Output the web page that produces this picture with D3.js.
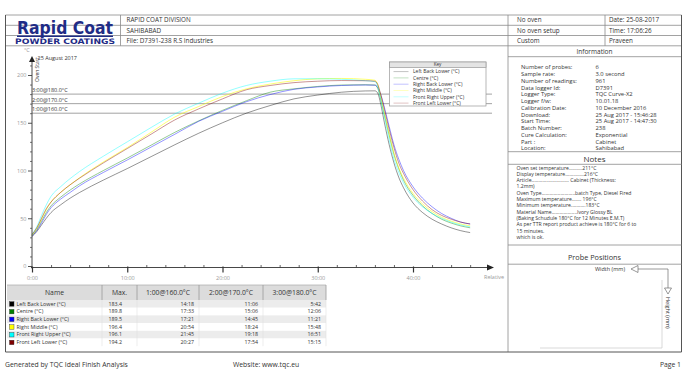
<!DOCTYPE html>
<html>
<head>
<meta charset="utf-8">
<script src="https://cdn.jsdelivr.net/npm/d3@7"></script>
<style>
body { margin: 0; background: #fff; }
svg { display: block; font-family: "Open Sans", sans-serif; }
</style>
</head>
<body>
<svg id="chart" width="685" height="381"></svg>
<script>
// ---- data ----
var times = [0, 0.5, 1, 1.5, 2, 3, 4, 5, 7.5, 10, 12.5, 15, 17.5, 20, 22.5, 25, 27.5, 30, 32.5, 35, 36, 36.3, 36.6, 37, 37.5, 38, 38.5, 39, 40, 41, 42, 43, 44, 45, 46];
var seriesNames = ["Left Back Lower (°C)", "Centre (°C)", "Right Back Lower (°C)", "Right Middle (°C)", "Front Right Upper (°C)", "Front Left Lower (°C)"];
var seriesColors = ["#000000", "#008000", "#0000ff", "#ffff00", "#00ffff", "#800000"];
var leftBackLower = [31, 36, 43, 50, 56, 64, 71, 77, 90, 102, 114.5, 127, 139, 150, 160, 168, 175, 179, 182, 183.3, 183.4, 181, 170, 150, 127, 108, 93, 82, 66, 56, 49, 44, 40, 37, 35];
var centre = [32, 38, 47, 56, 63, 72, 79.5, 86, 100, 113, 126.5, 140, 152, 163, 173, 182, 185.5, 188, 189.5, 189.8, 189.5, 186, 175, 158, 137, 117, 102, 90, 74, 63, 55, 49, 45, 42, 40];
var rightBackLower = [31, 37, 45, 54, 61, 70, 77, 84, 98, 111, 124.5, 138, 151.5, 162, 172, 179.5, 185, 187.5, 189, 189.5, 189.3, 187, 180, 166, 146, 127, 112, 100, 83, 71, 62, 55, 50, 46, 44];
var rightMiddle = [32, 39, 49, 59, 67, 77, 85, 92.5, 109, 124, 140, 156, 167, 177.5, 185.5, 190.5, 194, 196, 196.4, 195.5, 194.5, 190, 178, 160, 138, 118, 103, 92, 76, 65, 57, 51, 47, 44, 42];
var frontRightUpper = [33, 41, 53, 64, 73, 83, 91.5, 99, 115, 130, 145, 159.3, 170.5, 181, 189, 193.5, 196, 196.1, 195.5, 194, 193, 188, 175, 156, 132, 112, 98, 87, 72, 62, 55, 50, 46, 43, 41];
var frontLeftLower = [33, 40, 50, 60, 67, 77, 85, 92, 108, 123, 138, 153, 164.5, 175, 184.5, 189, 192, 193.5, 194.2, 194, 193.5, 190, 180, 164, 143, 124, 108, 97, 80, 68, 59, 53, 49, 46, 44];
var seriesValues = [leftBackLower, centre, rightBackLower, rightMiddle, frontRightUpper, frontLeftLower];

var thresholds = [160, 170, 180];
var thresholdLabels = ["1:00@160.0°C", "2:00@170.0°C", "3:00@180.0°C"];

var tableHeaders = ["Name", "Max.", "1:00@160.0°C", "2:00@170.0°C", "3:00@180.0°C"];
var maxValues = ["183.4", "189.8", "189.5", "196.4", "196.1", "194.2"];
var timeAbove160 = ["14:18", "17:33", "17:21", "20:54", "21:45", "20:27"];
var timeAbove170 = ["11:06", "15:06", "14:45", "18:24", "19:18", "17:54"];
var timeAbove180 = ["5:42", "12:06", "11:21", "15:48", "16:51", "15:15"];

var xMajorTicks = [0, 10, 20, 30, 40];
var yMajorTicks = [0, 50, 100, 150, 200];

var headerLeft = ["RAPID COAT DIVISION", "SAHIBABAD", "File: D7391-238 R.S Industries"];
var headerMid = ["No oven", "No oven setup", "Custom"];
var headerRight = ["Date: 25-08-2017", "Time: 17:06:26", "Praveen"];

var infoLabels = ["Number of probes:", "Sample rate:", "Number of readings:", "Data logger Id:", "Logger Type:", "Logger f/w:", "Calibration Date:", "Download:", "Start Time:", "Batch Number:", "Cure Calculation:", "Part :", "Location:"];
var infoValues = ["6", "3.0 second", "961", "D7391", "TQC Curve-X2", "10.01.18", "10 December 2016", "25 Aug 2017 - 15:46:28", "25 Aug 2017 - 14:47:30", "238", "Exponential", "Cabinet", "Sahibabad"];
var notesLines = [
    "Oven set temperature..........211°C",
    "Display temperature..............216°C",
    "Article............................ Cabinet (Thickness:",
    "1.2mm)",
    "Oven Type.........................batch Type, Diesel Fired",
    "Maximum temperature....... 196°C",
    "Minimum temperature...........183°C",
    "Material Name...................Ivory Glossy BL",
    "(Baking Schudule 180°C  for 12 Minutes E.M.T)",
    "As per TTR report product achieve is 180°C  for 6 to",
    "15 minutes.",
    "which is ok."
];

var svg = d3.select("#chart");
var frame = "#8a8a8a";

// ---- header / frame ----
function hline(x1, x2, y, c, w) {
    svg.append("line").attr("x1", x1).attr("x2", x2).attr("y1", y).attr("y2", y)
        .style("stroke", c || frame).style("stroke-width", w || 0.8);
}
function vline(x, y1, y2, c, w) {
    svg.append("line").attr("x1", x).attr("x2", x).attr("y1", y1).attr("y2", y2)
        .style("stroke", c || frame).style("stroke-width", w || 0.8);
}
[15, 25.3, 35.5, 45.8].forEach(function(y) { hline(5.5, 681.5, y); });
hline(508, 681.5, 56.7);
vline(5.5, 15, 352, "#555", 1);
vline(681.5, 15, 352, "#555", 1);
vline(120.5, 15, 45.8);
vline(508, 15, 352);
vline(605, 15, 45.8);
hline(5.5, 681.5, 352, "#555", 1);

// logo
svg.append("text").attr("x", 17).attr("y", 33.5)
    .attr("textLength", 96).attr("lengthAdjust", "spacingAndGlyphs")
    .style("font-family", "'DejaVu Sans', sans-serif").style("font-weight", "bold")
    .style("font-size", "18px").style("fill", "#1f2c86").text("Rapid Coat");
hline(17, 113, 36.3, "#1f2c86", 1.6);
svg.append("text").attr("x", 15).attr("y", 44.2)
    .attr("textLength", 100).attr("lengthAdjust", "spacingAndGlyphs")
    .style("font-family", "'DejaVu Sans', sans-serif").style("font-weight", "bold")
    .style("font-size", "7.5px").style("fill", "#1f2c86").text("POWDER COATINGS");

var rowY = [22.4, 32.6, 43];
headerLeft.forEach(function(t, i) {
    svg.append("text").attr("x", 126.5).attr("y", rowY[i]).style("font-size", "6.3px").style("fill", "#333").text(t);
});
headerMid.forEach(function(t, i) {
    svg.append("text").attr("x", 517).attr("y", rowY[i]).style("font-size", "6.3px").style("fill", "#333").text(t);
});
headerRight.forEach(function(t, i) {
    svg.append("text").attr("x", 609).attr("y", rowY[i]).style("font-size", "6.3px").style("fill", "#333").text(t);
});

// ---- right panel ----
svg.append("text").attr("x", 594.5).attr("y", 53.5).attr("text-anchor", "middle")
    .style("font-size", "6.5px").style("fill", "#333").text("Information");
infoLabels.forEach(function(t, i) {
    svg.append("text").attr("x", 521).attr("y", 69.3 + i * 6.75).style("font-size", "5.8px").style("fill", "#333").text(t);
    svg.append("text").attr("x", 595.5).attr("y", 69.3 + i * 6.75).style("font-size", "5.8px").style("fill", "#333").text(infoValues[i]);
});
hline(508, 681.5, 151.7);
svg.append("text").attr("x", 594.5).attr("y", 161.5).attr("text-anchor", "middle")
    .style("font-size", "8px").style("fill", "#333").text("Notes");
hline(508, 681.5, 164.3);
notesLines.forEach(function(t, i) {
    svg.append("text").attr("x", 516.5).attr("y", 169.5 + i * 6.3)
        .style("font-size", "5.1px").style("fill", "#333").text(t);
});
hline(508, 681.5, 245);
svg.append("text").attr("x", 594.5).attr("y", 260).attr("text-anchor", "middle")
    .style("font-size", "7.3px").style("fill", "#333").text("Probe Positions");
hline(508, 681.5, 264.2);

// probe positions sketch
vline(662, 280, 348, "#cfcfcf", 0.8);
hline(540, 662, 348, "#cfcfcf", 0.8);
svg.append("text").attr("x", 595).attr("y", 271).style("font-size", "5.5px").style("fill", "#333").text("Width (mm)");
svg.append("path").attr("d", "M631,269 L638,265.5 L638,272.5 Z").style("fill", "#fff").style("stroke", "#555").style("stroke-width", 0.6);
hline(638, 668, 269, "#555", 0.6);
vline(668, 269, 288, "#555", 0.6);
svg.append("path").attr("d", "M668,294 L664.5,288 L671.5,288 Z").style("fill", "#fff").style("stroke", "#555").style("stroke-width", 0.6);
svg.append("text").attr("transform", "translate(666,297) rotate(90)").style("font-size", "5.5px").style("fill", "#333").text("Height (mm)");

// ---- chart ----
var x = d3.scaleLinear().domain([0, 40]).range([32, 413]);
var y = d3.scaleLinear().domain([0, 200]).range([266, 75]);
var axisY = 267.5;

// threshold lines
thresholds.forEach(function(th, i) {
    svg.append("line").attr("x1", x(0)).attr("x2", 492).attr("y1", y(th)).attr("y2", y(th))
        .style("stroke", "#8c8c8c").style("stroke-width", 0.8);
    svg.append("text").attr("x", x(0)).attr("y", y(th) - 1.8).style("font-size", "5.5px").style("fill", "#333").text(thresholdLabels[i]);
});

// curves
var line = d3.line().x(function(d) { return x(d[0]); }).y(function(d) { return y(d[1]); }).curve(d3.curveMonotoneX);
seriesValues.forEach(function(vals, i) {
    var pts = times.map(function(t, j) { return [t, vals[j]]; });
    svg.append("path").attr("d", line(pts))
        .style("fill", "none").style("stroke", seriesColors[i])
        .style("stroke-width", 1).style("stroke-opacity", i === 3 ? 0.55 : 0.42);
});

// x axis
var xMinor = d3.axisBottom(x).tickValues(d3.range(2, 48, 2).filter(function(v) { return v % 10 !== 0; }))
    .tickSize(-2.5).tickFormat("");
var gxm = svg.append("g").attr("transform", "translate(0," + axisY + ")").call(xMinor);
gxm.select(".domain").remove();
gxm.selectAll("line").style("stroke", "#666");
var xMajor = d3.axisBottom(x).tickValues(xMajorTicks).tickSize(5).tickPadding(4)
    .tickFormat(function(d) { return d + ":00"; });
var gx = svg.append("g").attr("transform", "translate(0," + axisY + ")").call(xMajor);
gx.select(".domain").remove();
gx.selectAll("line").attr("y1", -1).style("stroke", "#333").style("stroke-width", 1.2);
gx.selectAll("text").style("font-size", "5.5px").style("fill", "#999").style("font-family", "'Open Sans', sans-serif");
svg.append("line").attr("x1", 31).attr("x2", 489).attr("y1", axisY).attr("y2", axisY).style("stroke", "#333").style("stroke-width", 0.9);
svg.append("path").attr("d", "M494," + axisY + " L487," + (axisY - 3) + " L487," + (axisY + 3) + " Z").style("fill", "#222");
svg.append("text").attr("x", 484).attr("y", 279).style("font-size", "5.5px").style("fill", "#999").text("Relative");

// y axis
var yMinor = d3.axisLeft(y).tickValues(d3.range(10, 220, 10).filter(function(v) { return v % 50 !== 0; }))
    .tickSize(2).tickFormat("");
var gym = svg.append("g").attr("transform", "translate(32,0)").call(yMinor);
gym.select(".domain").remove();
gym.selectAll("line").style("stroke", "#777");
var yMajor = d3.axisLeft(y).tickValues(yMajorTicks).tickSize(4).tickPadding(1.5);
var gy = svg.append("g").attr("transform", "translate(32,0)").call(yMajor);
gy.select(".domain").remove();
gy.selectAll("line").style("stroke", "#555");
gy.selectAll("text").style("font-size", "5.5px").style("fill", "#999").style("font-family", "'Open Sans', sans-serif");
svg.append("line").attr("x1", 32).attr("x2", 32).attr("y1", axisY + 1).attr("y2", 61).style("stroke", "#333").style("stroke-width", 0.9);
svg.append("path").attr("d", "M32,56 L29,62 L35,62 Z").style("fill", "#222");
svg.append("text").attr("x", 24).attr("y", 52).style("font-size", "5.5px").style("fill", "#999").text("°C");
svg.append("text").attr("x", 37.5).attr("y", 59.5).style("font-size", "5.5px").style("fill", "#333").text("25 August 2017");
svg.append("text").attr("transform", "translate(39,82) rotate(-90)").style("font-size", "5px").style("fill", "#333").text("Oven Start");

// key
var key = svg.append("g").attr("transform", "translate(389.5,62)");
key.append("rect").attr("width", 96.5).attr("height", 44).style("fill", "#fff").style("stroke", "#999").style("stroke-width", 0.7);
key.append("rect").attr("width", 96.5).attr("height", 5.5).style("fill", "#e4e4e4").style("stroke", "#999").style("stroke-width", 0.7);
key.append("text").attr("x", 48).attr("y", 4.4).attr("text-anchor", "middle").style("font-size", "4.6px").style("fill", "#333").text("Key");
seriesNames.forEach(function(n, i) {
    var ky = 9.6 + i * 6.3;
    key.append("line").attr("x1", 4).attr("x2", 19).attr("y1", ky).attr("y2", ky)
        .style("stroke", seriesColors[i]).style("stroke-opacity", 0.3).style("stroke-width", 0.8);
    key.append("text").attr("x", 23.5).attr("y", ky + 1.8).style("font-size", "5px").style("fill", "#333").text(n);
});

// ---- table ----
var colX = [7, 102, 137, 199, 263, 326];
var headTop = 285, headH = 15, rowH = 7.7;
var tbl = svg.append("g");
tbl.append("rect").attr("x", colX[0]).attr("y", headTop).attr("width", colX[5] - colX[0]).attr("height", headH)
    .style("fill", "#dcdcdc");
hline(colX[0], colX[5], headTop, "#aaa", 0.7);
tableHeaders.forEach(function(h, i) {
    tbl.append("text").attr("x", (colX[i] + colX[i + 1]) / 2).attr("y", headTop + 10).attr("text-anchor", "middle")
        .style("font-size", "6.8px").style("fill", "#333").text(h);
});
var rows = seriesNames.map(function(n, i) { return [n, maxValues[i], timeAbove160[i], timeAbove170[i], timeAbove180[i]]; });
rows.forEach(function(r, i) {
    var ry = headTop + headH + i * rowH;
    tbl.append("rect").attr("x", colX[0]).attr("y", ry).attr("width", colX[5] - colX[0]).attr("height", rowH)
        .style("fill", i % 2 === 0 ? "#ececec" : "#fff");
    tbl.append("rect").attr("x", 9.5).attr("y", ry + 1.7).attr("width", 4.5).attr("height", 4.5)
        .style("fill", seriesColors[i]).style("stroke", "#333").style("stroke-width", 0.4);
    tbl.append("text").attr("x", 16.5).attr("y", ry + 5.6).style("font-size", "5.3px").style("fill", "#333").text(r[0]);
    tbl.append("text").attr("x", 122).attr("y", ry + 5.6).attr("text-anchor", "end").style("font-size", "5.3px").style("fill", "#333").text(r[1]);
    for (var c = 2; c < 5; c++) {
        tbl.append("text").attr("x", colX[c + 1] - 5).attr("y", ry + 5.6).attr("text-anchor", "end")
            .style("font-size", "5.3px").style("fill", "#333").text(r[c]);
    }
});
var tblBottom = headTop + headH + rows.length * rowH;
for (var c = 1; c < 6; c++) {
    vline(colX[c], headTop, headTop + headH, "#9a9a9a", 0.8);
    vline(colX[c], headTop + headH, tblBottom, "#e0e0e0", 0.6);
}

// ---- footer ----
svg.append("text").attr("x", 5).attr("y", 367).style("font-size", "6.8px").style("fill", "#333").text("Generated by TQC Ideal Finish Analysis");
svg.append("text").attr("x", 233).attr("y", 367).style("font-size", "6.8px").style("fill", "#333").text("Website: www.tqc.eu");
svg.append("text").attr("x", 681).attr("y", 367).attr("text-anchor", "end").style("font-size", "6.8px").style("fill", "#333").text("Page 1");
</script>
</body>
</html>
